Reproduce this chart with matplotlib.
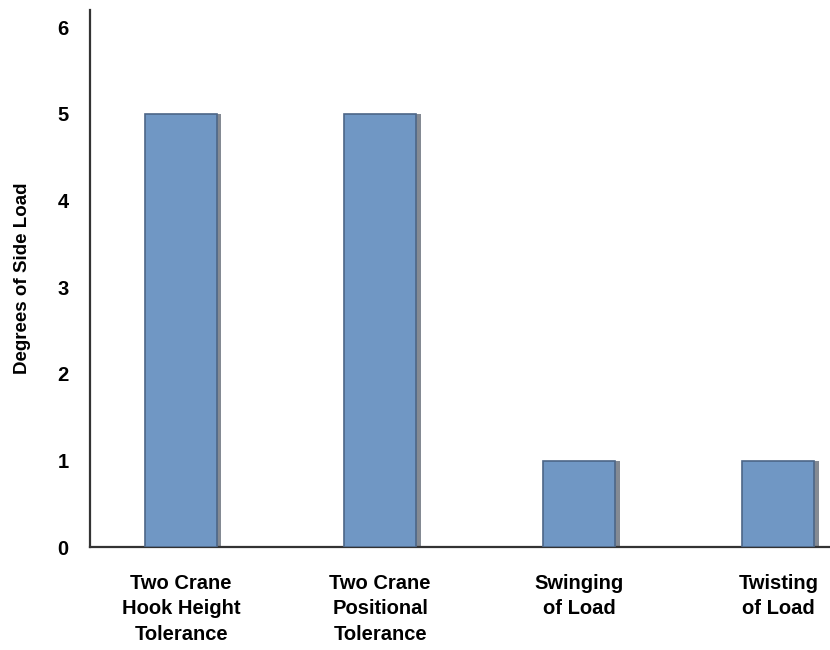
import matplotlib
matplotlib.use("Agg")
import matplotlib.pyplot as plt

# data
categories = ["Two Crane\nHook Height\nTolerance",
              "Two Crane\nPositional\nTolerance",
              "Swinging\nof Load",
              "Twisting\nof Load"]
values = [5, 5, 1, 1]
yticks = [0, 1, 2, 3, 4, 5, 6]

plt.rcParams['font.family'] = ['Liberation Sans', 'DejaVu Sans']

fig = plt.figure(figsize=(8.3, 6.5), dpi=100)
ax = fig.add_axes([0.108, 0.158, 0.892, 0.827])

x = list(range(len(categories)))

# shadow behind bars
ax.bar([i + 0.02 for i in x], values, width=0.365, color='#1f2a3a', alpha=0.55,
       zorder=2)
ax.bar(x, values, width=0.36, color='#7097c4', edgecolor='#4d6687',
       linewidth=1.2, zorder=3)

ax.set_xlim(-0.46, 3.26)
ax.set_ylim(0, 6.2)
ax.set_yticks(yticks)
ax.set_yticklabels([str(t) for t in yticks], fontsize=14.5, fontweight='bold')
ax.set_xticks(x)
ax.set_xticklabels(categories, fontsize=14.5, fontweight='bold', linespacing=1.45)
ax.tick_params(axis='y', length=0, pad=15)
ax.tick_params(axis='x', length=0, pad=19)
ax.set_ylabel("Degrees of Side Load", fontsize=13.5, fontweight='bold', labelpad=19)

for s in ['top', 'right']:
    ax.spines[s].set_visible(False)
for s in ['left', 'bottom']:
    ax.spines[s].set_color('#333333')
    ax.spines[s].set_linewidth(1.6)

fig.savefig("out.png", dpi=100)
